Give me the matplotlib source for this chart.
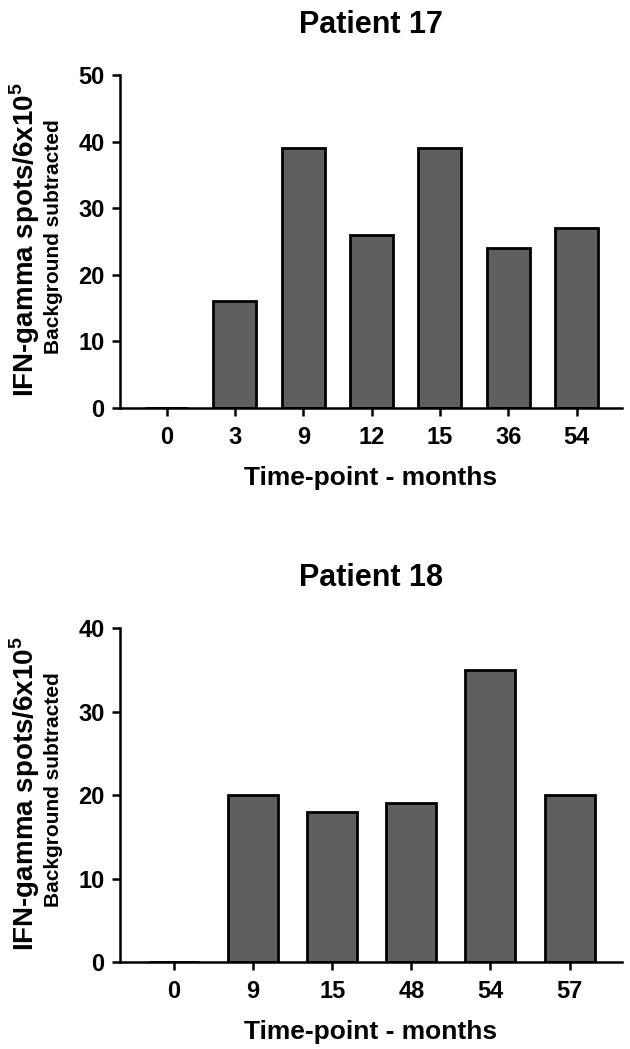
import matplotlib
matplotlib.use("Agg")
import matplotlib.pyplot as plt
from matplotlib import font_manager

# data
months_p17 = ["0", "3", "9", "12", "15", "36", "54"]
spots_p17 = [0, 16, 39, 26, 39, 24, 27]
months_p18 = ["0", "9", "15", "48", "54", "57"]
spots_p18 = [0, 20, 18, 19, 35, 20]

names = {f.name for f in font_manager.fontManager.ttflist}
narrow = "Liberation Sans Narrow" if "Liberation Sans Narrow" in names else "Liberation Sans"

plt.rcParams["font.family"] = [narrow, "DejaVu Sans"]
plt.rcParams["font.weight"] = "bold"
plt.rcParams["mathtext.fontset"] = "custom"
plt.rcParams["mathtext.rm"] = narrow + ":bold"
plt.rcParams["mathtext.bf"] = narrow + ":bold"

fig = plt.figure(figsize=(6.3, 10.49), dpi=100)


def panel(rect, labels, vals, ymax, title):
	ax = fig.add_axes(rect)
	x = range(len(vals))
	ax.bar(x, vals, width=0.63, color="#5f5f5f", edgecolor="black", linewidth=2)
	ax.set_xlim(-0.68, len(vals) - 1 + 0.66)
	ax.set_ylim(0, ymax)
	ax.set_yticks(range(0, ymax + 1, 10))
	ax.set_xticks(list(x))
	ax.set_xticklabels(labels)
	for s in ["top", "right"]:
		ax.spines[s].set_visible(False)
	for s in ["left", "bottom"]:
		ax.spines[s].set_linewidth(1.8)
	ax.tick_params(axis="both", length=6, width=1.8, labelsize=17, pad=5)
	ax.tick_params(axis="x", pad=7)
	for t in ax.get_xticklabels() + ax.get_yticklabels():
		t.set_fontweight("bold")
	ax.set_xlabel("Time-point - months", fontsize=19, fontweight="bold", labelpad=12)
	ax.set_title(title, fontsize=22, fontweight="bold", pad=30)
	ax.text(-0.19, 0.505, r"IFN-gamma spots/6x10$^{5}$", transform=ax.transAxes,
			rotation=90, ha="center", va="center", fontsize=20, fontweight="bold")
	ax.text(-0.132, 0.515, "Background subtracted", transform=ax.transAxes,
			rotation=90, ha="center", va="center", fontsize=15, fontweight="bold")
	return ax


panel([0.1905, 0.611, 0.7965, 0.3175], months_p17, spots_p17, 50, "Patient 17")
panel([0.1905, 0.0829, 0.7965, 0.3184], months_p18, spots_p18, 40, "Patient 18")

fig.savefig("out.png", dpi=100)
